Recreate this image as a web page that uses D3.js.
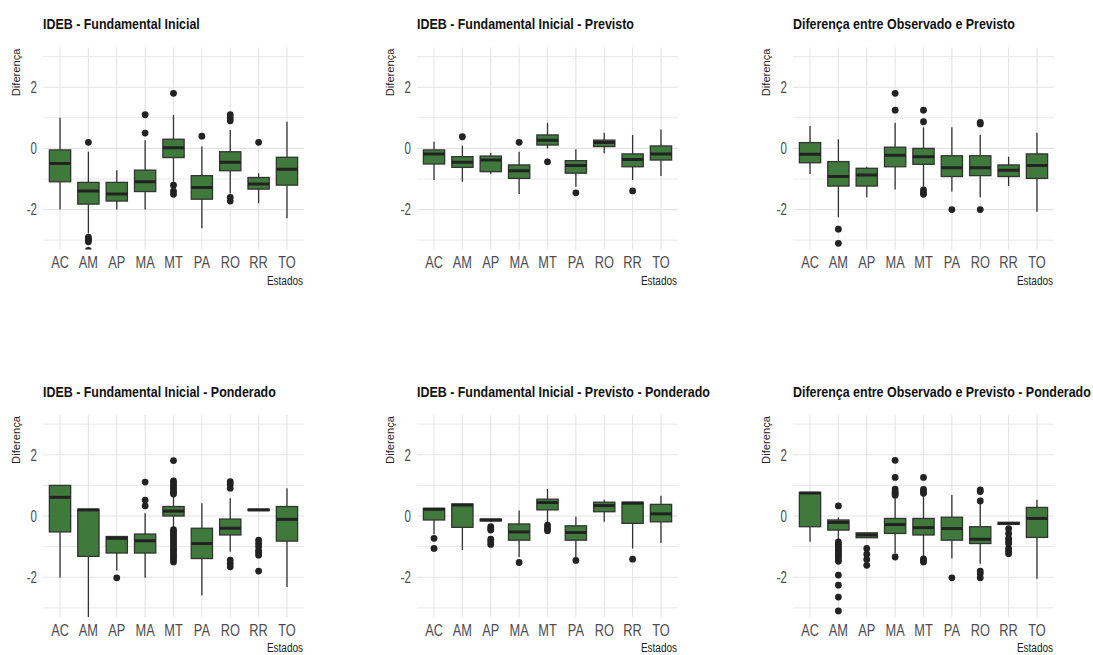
<!DOCTYPE html>
<html>
<head>
<meta charset="utf-8">
<script src="https://cdn.jsdelivr.net/npm/d3@7"></script>
<style>
  html, body { margin: 0; padding: 0; background: #ffffff; }
  svg { display: block; }
  text { font-family: "Liberation Sans", Arial, sans-serif; }
</style>
</head>
<body>
<svg id="chart" width="1093" height="655"></svg>
<script>
// States on the x axis
const estados = ["AC", "AM", "AP", "MA", "MT", "PA", "RO", "RR", "TO"];
const yTicks = [-2, 0, 2];
const yGrid = [-3, -2, -1, 0, 1, 2, 3];

// IDEB - Fundamental Inicial (observado)
const obsLo  = [-2.00, -2.77, -2.00, -2.00, -1.09, -2.61, -1.47, -1.79, -2.28];
const obsQ1  = [-1.09, -1.82, -1.72, -1.41, -0.30, -1.66, -0.73, -1.33, -1.20];
const obsMed = [-0.49, -1.39, -1.49, -1.09,  0.02, -1.28, -0.45, -1.16, -0.68];
const obsQ3  = [-0.05, -1.11, -1.11, -0.71,  0.30, -0.89, -0.11, -0.95, -0.29];
const obsHi  = [ 1.00, -0.11, -0.71,  0.27,  1.09,  0.06,  0.60, -0.81,  0.87];
const obsOut = [[], [0.20, -2.90, -2.95, -3.00, -3.05, -3.33], [], [1.10, 0.50],
                [1.80, -1.20, -1.40, -1.50], [0.40], [1.10, 1.00, 0.90, -1.60, -1.72], [0.20], []];

// IDEB - Fundamental Inicial - Previsto
const prevLo  = [-1.03, -1.09, -0.84, -1.49,  0.00, -1.25, -0.16, -1.03, -0.90];
const prevQ1  = [-0.51, -0.62, -0.76, -0.98,  0.11, -0.81,  0.06, -0.60, -0.38];
const prevMed = [-0.18, -0.45, -0.38, -0.73,  0.27, -0.56,  0.19, -0.36, -0.18];
const prevQ3  = [-0.05, -0.27, -0.25, -0.54,  0.44, -0.40,  0.27, -0.18,  0.08];
const prevHi  = [ 0.22,  0.09, -0.14, -0.11,  0.84, -0.03,  0.51,  0.44,  0.62];
const prevOut = [[], [0.38], [], [0.20], [-0.44], [-1.45], [], [-1.39], []];

// Diferença entre Observado e Previsto
const difLo  = [-0.84, -2.25, -1.60, -1.34, -1.25, -1.41, -1.60, -1.23, -2.07];
const difQ1  = [-0.47, -1.23, -1.23, -0.60, -0.52, -0.92, -0.89, -0.92, -0.98];
const difMed = [-0.19, -0.92, -0.87, -0.22, -0.27, -0.63, -0.63, -0.71, -0.56];
const difQ3  = [ 0.19, -0.43, -0.65,  0.04,  0.00, -0.24, -0.24, -0.54, -0.18];
const difHi  = [ 0.73,  0.30, -0.60,  0.84,  0.69,  0.69,  0.44, -0.27,  0.51];
const difOut = [[], [-2.64, -3.10], [], [1.80, 1.25], [1.25, 0.87, -1.36, -1.45, -1.50],
                [-2.00], [0.85, 0.80, -2.00], [], []];

// IDEB - Fundamental Inicial - Ponderado
const obsPLo  = [-2.02, -3.30, -1.78, -2.02, -0.40, -2.60, -1.17,  0.18, -2.32];
const obsPQ1  = [-0.52, -1.32, -1.21, -1.21,  0.00, -1.39, -0.62,  0.18, -0.82];
const obsPMed = [ 0.61,  0.20, -0.73, -0.81,  0.16, -0.90, -0.40,  0.20, -0.11];
const obsPQ3  = [ 1.00,  0.22, -0.67, -0.59,  0.31, -0.40, -0.10,  0.22,  0.31];
const obsPHi  = [ 1.00,  0.22, -0.67,  0.09,  0.69,  0.42,  0.58,  0.22,  0.91];
const obsPOut = [[], [], [-2.02], [1.11, 0.52, 0.33],
                 [1.81, 1.15, 1.08, 1.00, 0.92, 0.85, 0.78, 0.72,
                  -0.45, -0.52, -0.60, -0.68, -0.75, -0.82, -0.90, -0.98, -1.05,
                  -1.12, -1.20, -1.28, -1.35, -1.42, -1.50],
                 [], [1.12, 1.04, 0.91, -1.44, -1.55, -1.66],
                 [-0.79, -0.90, -1.00, -1.12, -1.20, -1.28, -1.80], []];

// IDEB - Fundamental Inicial - Previsto - Ponderado
const prevPLo  = [-0.60, -1.11, -0.20, -1.34, -0.24, -1.34, -0.19, -1.06, -0.88];
const prevPQ1  = [-0.13, -0.37, -0.16, -0.79,  0.20, -0.79,  0.14, -0.24, -0.19];
const prevPMed = [ 0.22,  0.36, -0.13, -0.52,  0.44, -0.54,  0.34,  0.42,  0.07];
const prevPQ3  = [ 0.25,  0.39, -0.10, -0.26,  0.55, -0.32,  0.45,  0.45,  0.38];
const prevPHi  = [ 0.25,  0.39, -0.10,  0.18,  0.88, -0.02,  0.53,  0.45,  0.66];
const prevPOut = [[-0.73, -1.06], [], [-0.35, -0.42, -0.46, -0.76, -0.84, -0.93],
                  [-1.52], [-0.30, -0.40, -0.48], [-1.45], [], [-1.41], []];

// Diferença entre Observado e Previsto - Ponderado
const difPLo  = [-0.84, -0.79, -0.71, -1.22, -1.34, -1.39, -1.56, -0.27, -2.05];
const difPQ1  = [-0.35, -0.46, -0.71, -0.57, -0.62, -0.79, -0.90, -0.27, -0.70];
const difPMed = [ 0.75, -0.21, -0.62, -0.28, -0.38, -0.41, -0.76, -0.24, -0.08];
const difPQ3  = [ 0.77, -0.13, -0.55, -0.08, -0.08, -0.04, -0.35, -0.21,  0.28];
const difPHi  = [ 0.77, -0.05, -0.55,  0.61,  0.66,  0.69,  0.42, -0.21,  0.53];
const difPOut = [[], [0.33, -0.85, -0.92, -0.98, -1.04, -1.10, -1.16, -1.22, -1.28,
                  -1.34, -1.40, -1.48, -1.93, -2.26, -2.65, -3.10],
                 [-1.06, -1.25, -1.42, -1.61], [1.82, 1.26, 0.88, 0.80, 0.74, 0.68, -1.34],
                 [1.26, 0.87, 0.80, 0.74, -1.40, -1.46, -1.50], [-2.02],
                 [0.85, 0.80, 0.49, -1.80, -1.88, -2.02],
                 [-0.41, -0.57, -0.73, -0.82, -0.90, -1.06, -1.15, -1.23], []];

const titles = [
  "IDEB - Fundamental Inicial",
  "IDEB - Fundamental Inicial - Previsto",
  "Diferença entre Observado e Previsto",
  "IDEB - Fundamental Inicial - Ponderado",
  "IDEB - Fundamental Inicial - Previsto - Ponderado",
  "Diferença entre Observado e Previsto - Ponderado"
];
const yTitle = "Diferença";
const xTitle = "Estados";

// build per-panel box tables from the arrays above
function table(lo, q1, med, q3, hi, out) {
  return estados.map((e, i) => ({ estado: e, lo: lo[i], q1: q1[i], med: med[i], q3: q3[i], hi: hi[i], out: out[i] }));
}
const panels = [
  table(obsLo, obsQ1, obsMed, obsQ3, obsHi, obsOut),
  table(prevLo, prevQ1, prevMed, prevQ3, prevHi, prevOut),
  table(difLo, difQ1, difMed, difQ3, difHi, difOut),
  table(obsPLo, obsPQ1, obsPMed, obsPQ3, obsPHi, obsPOut),
  table(prevPLo, prevPQ1, prevPMed, prevPQ3, prevPHi, prevPOut),
  table(difPLo, difPQ1, difPMed, difPQ3, difPHi, difPOut)
];

// layout
const colLeft = [43, 417, 793];
const rowTop = [47.4, 415];
const plotW = 261;
const plotH = 202;

const svg = d3.select("#chart");

// text helper: horizontally condensed text
function label(g, x, y, str, o) {
  const t = g.append("text")
    .attr("transform", o.rotate
      ? `translate(${x},${y}) rotate(-90) scale(1,${o.sy || 1})`
      : `translate(${x},${y}) scale(${o.sx || 1},1)`)
    .attr("text-anchor", o.anchor || "start")
    .attr("font-size", o.size)
    .attr("font-weight", o.weight || "normal")
    .attr("fill", o.fill || "#222")
    .text(str);
  if (o.dy) t.attr("dy", o.dy);
  return t;
}

panels.forEach((data, p) => {
  const L = colLeft[p % 3];
  const T = rowTop[Math.floor(p / 3)];
  const g = svg.append("g");

  const x = d3.scalePoint().domain(estados).range([L, L + plotW]).padding(0.6);
  const y = d3.scaleLinear().domain([-3.3, 3.3]).range([T + plotH, T]);
  const hw = x.step() * 0.375;

  // grid
  g.append("g").selectAll("line").data(yGrid).join("line")
    .attr("x1", L).attr("x2", L + plotW)
    .attr("y1", d => y(d)).attr("y2", d => y(d))
    .attr("stroke", "#e4e4e4").attr("stroke-width", d => d % 2 === 0 ? 1.1 : 0.8);
  g.append("g").selectAll("line").data(estados).join("line")
    .attr("x1", d => x(d)).attr("x2", d => x(d))
    .attr("y1", T).attr("y2", T + plotH)
    .attr("stroke", "#e4e4e4").attr("stroke-width", 1.1);

  // clip
  const cid = "clip" + p;
  svg.append("clipPath").attr("id", cid).append("rect")
    .attr("x", L).attr("y", T).attr("width", plotW).attr("height", plotH);
  const m = g.append("g").attr("clip-path", `url(#${cid})`);

  const box = m.selectAll("g.box").data(data).join("g").attr("class", "box");
  // whiskers
  box.append("line")
    .attr("x1", d => x(d.estado)).attr("x2", d => x(d.estado))
    .attr("y1", d => y(d.hi)).attr("y2", d => y(d.q3))
    .attr("stroke", "#333").attr("stroke-width", 1.3);
  box.append("line")
    .attr("x1", d => x(d.estado)).attr("x2", d => x(d.estado))
    .attr("y1", d => y(d.q1)).attr("y2", d => y(d.lo))
    .attr("stroke", "#333").attr("stroke-width", 1.3);
  // box
  box.append("rect")
    .attr("x", d => x(d.estado) - hw).attr("width", hw * 2)
    .attr("y", d => y(d.q3)).attr("height", d => Math.max(0, y(d.q1) - y(d.q3)))
    .attr("fill", "#3f7a3c").attr("stroke", "#333").attr("stroke-width", 1.3);
  // median
  box.append("line")
    .attr("x1", d => x(d.estado) - hw).attr("x2", d => x(d.estado) + hw)
    .attr("y1", d => y(d.med)).attr("y2", d => y(d.med))
    .attr("stroke", "#222").attr("stroke-width", 3);
  // outliers
  box.selectAll("circle").data(d => d.out.map(v => ({ estado: d.estado, v }))).join("circle")
    .attr("cx", d => x(d.estado)).attr("cy", d => y(d.v))
    .attr("r", 3.4).attr("fill", "#222");

  // axes text
  estados.forEach(e => label(g, x(e), T + plotH + 19, e,
    { size: 16, sx: 0.8, anchor: "middle", fill: "#4d4d4d" }));
  yTicks.forEach(v => label(g, L - 6, y(v), String(v),
    { size: 16, sx: 0.72, anchor: "end", fill: "#4d4d4d", dy: "0.36em" }));

  label(g, L, T - 18, titles[p], { size: 15, sx: 0.83, weight: "bold", fill: "#111" });
  label(g, L + plotW - 1, T + plotH + 35.2, xTitle, { size: 13.5, sx: 0.74, anchor: "end", fill: "#222" });
  label(g, L - 23, T + 1, yTitle, { size: 11.2, rotate: true, sy: 0.9, anchor: "end", fill: "#222" });
});
</script>
</body>
</html>
